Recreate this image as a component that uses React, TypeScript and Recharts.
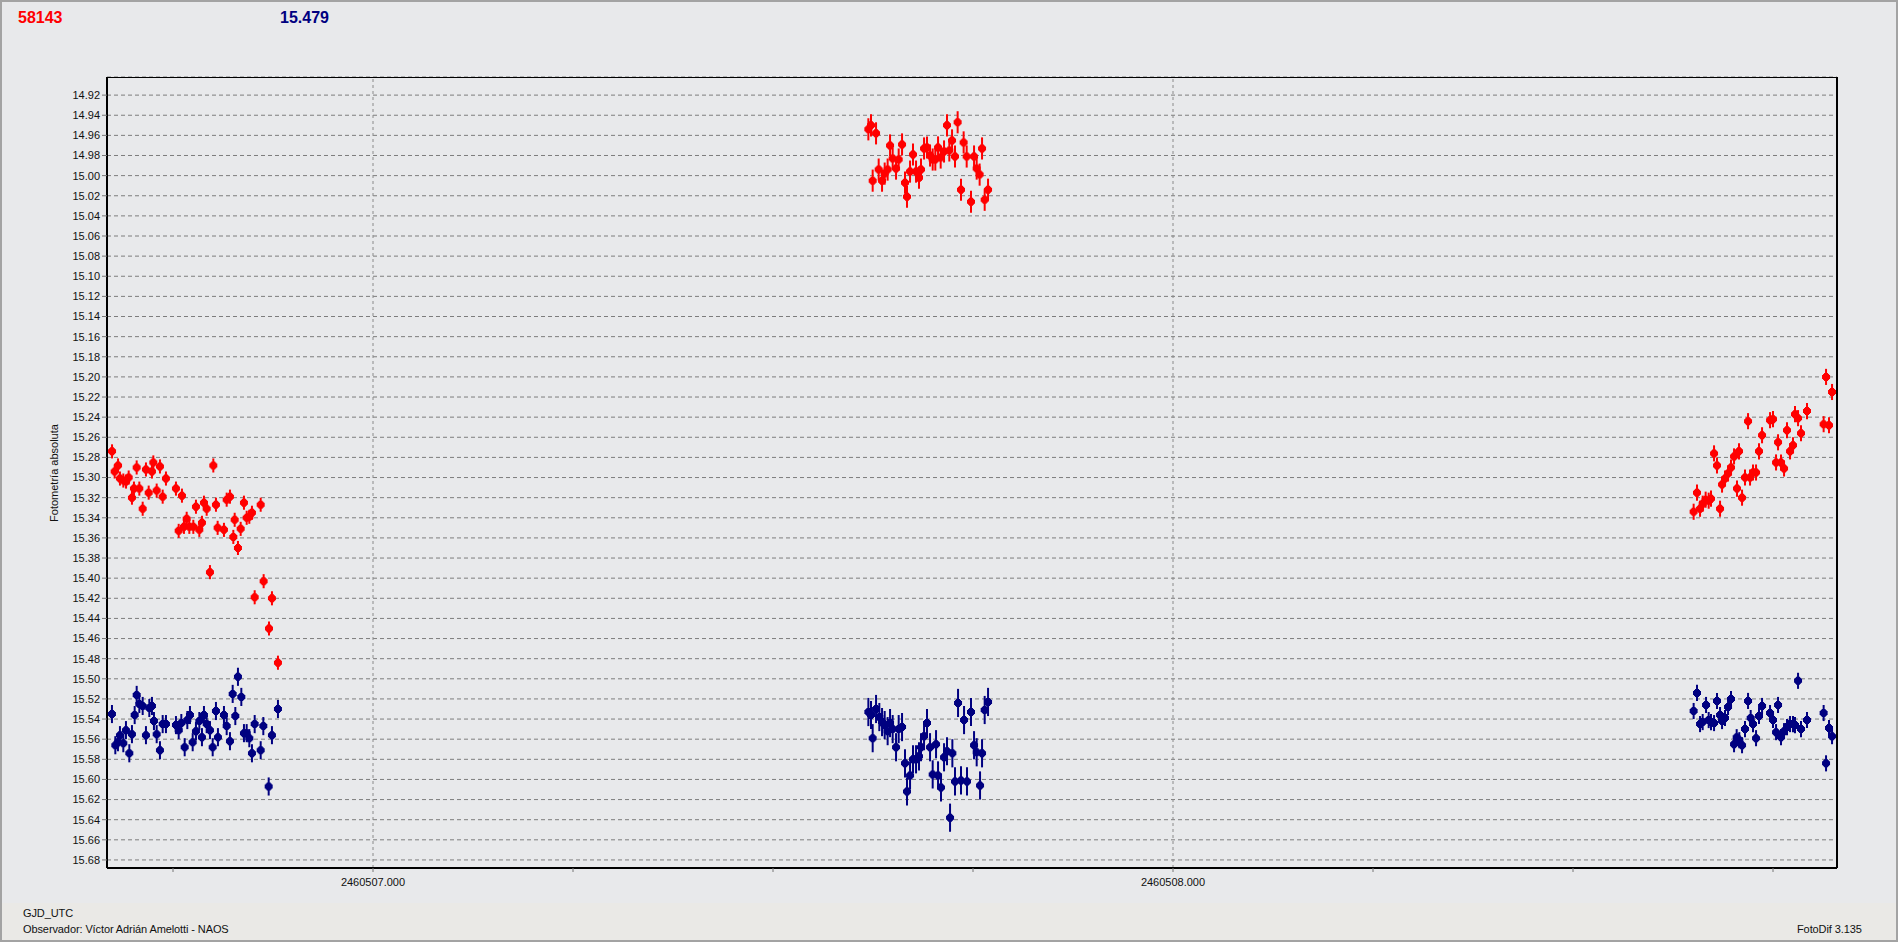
import React from "react";
import {
  ScatterChart,
  Scatter,
  XAxis,
  YAxis,
  CartesianGrid,
  ReferenceLine,
  ErrorBar,
} from "recharts";

// time axis is stored as days from JD0
const JD0 = 2460507;

const headerCount = "58143";
const headerMag = "15.479";
const xLabel = "GJD_UTC";
const yLabel = "Fotometría absoluta";
const observer = "Observador: Víctor Adrián Amelotti - NAOS";
const version = "FotoDif 3.135";

const yTicks = [
  14.92, 14.94, 14.96, 14.98, 15.0, 15.02, 15.04, 15.06, 15.08, 15.1, 15.12, 15.14, 15.16,
  15.18, 15.2, 15.22, 15.24, 15.26, 15.28, 15.3, 15.32, 15.34, 15.36, 15.38, 15.4, 15.42,
  15.44, 15.46, 15.48, 15.5, 15.52, 15.54, 15.56, 15.58, 15.6, 15.62, 15.64, 15.66, 15.68,
];
const xTicks = [-0.25, 0, 0.25, 0.5, 0.75, 1, 1.25, 1.5, 1.75];
const dayLines = [0, 1];

// [days, mag]
const redNight1: [number, number][] = [
  [-0.3262, 15.274], [-0.3229, 15.294], [-0.3187, 15.288], [-0.3163, 15.301], [-0.3121, 15.303],
  [-0.3087, 15.304], [-0.3054, 15.3], [-0.3013, 15.32], [-0.2988, 15.311], [-0.2954, 15.29],
  [-0.2921, 15.311], [-0.2879, 15.331], [-0.2838, 15.292], [-0.2804, 15.315], [-0.2763, 15.294],
  [-0.2746, 15.285], [-0.2704, 15.313], [-0.2663, 15.289], [-0.2629, 15.319], [-0.2588, 15.301],
  [-0.2463, 15.311], [-0.2429, 15.353], [-0.2388, 15.318], [-0.2363, 15.349], [-0.2329, 15.341],
  [-0.2296, 15.349], [-0.2246, 15.349], [-0.2213, 15.329], [-0.2171, 15.352], [-0.2138, 15.345],
  [-0.2113, 15.325], [-0.2079, 15.331], [-0.2038, 15.394], [-0.1996, 15.288], [-0.1963, 15.327],
  [-0.1942, 15.35], [-0.1863, 15.352], [-0.1829, 15.322], [-0.1788, 15.319], [-0.1746, 15.359],
  [-0.1729, 15.342], [-0.1688, 15.37], [-0.1654, 15.351], [-0.1613, 15.325], [-0.1579, 15.34],
  [-0.1546, 15.339], [-0.1513, 15.335], [-0.1479, 15.419], [-0.1404, 15.327], [-0.1367, 15.403],
  [-0.13, 15.45], [-0.1263, 15.42], [-0.1188, 15.484],
];
const redNight2: [number, number][] = [
  [0.6192, 14.954], [0.6225, 14.95], [0.6288, 14.958], [0.6246, 15.005], [0.6321, 14.994],
  [0.6363, 15.005], [0.6396, 14.998], [0.6433, 14.994], [0.6463, 14.97], [0.6496, 14.983],
  [0.6538, 14.993], [0.6571, 14.984], [0.6613, 14.969], [0.665, 15.007], [0.6675, 15.021],
  [0.6713, 14.996], [0.675, 14.979], [0.6788, 14.996], [0.6825, 15.002], [0.685, 14.994],
  [0.6888, 14.973], [0.6925, 14.972], [0.6963, 14.98], [0.6996, 14.984], [0.7029, 14.984],
  [0.7063, 14.972], [0.7096, 14.982], [0.7138, 14.976], [0.7175, 14.95], [0.7204, 14.975],
  [0.7238, 14.965], [0.7275, 14.981], [0.7308, 14.947], [0.735, 15.014], [0.7383, 14.967],
  [0.7421, 14.981], [0.7475, 15.026], [0.7513, 14.981], [0.7546, 14.993], [0.7583, 14.999],
  [0.7613, 14.973], [0.7646, 15.024], [0.7688, 15.014],
];
const redNight3: [number, number][] = [
  [1.6508, 15.334], [1.655, 15.315], [1.6588, 15.331], [1.6621, 15.326], [1.6658, 15.322],
  [1.6696, 15.323], [1.6725, 15.321], [1.6763, 15.276], [1.68, 15.288], [1.6838, 15.331],
  [1.6863, 15.307], [1.69, 15.301], [1.6938, 15.296], [1.6975, 15.29], [1.7013, 15.279],
  [1.705, 15.311], [1.7075, 15.274], [1.7113, 15.32], [1.715, 15.3], [1.7188, 15.244],
  [1.7213, 15.3], [1.725, 15.295], [1.7288, 15.295], [1.7325, 15.274], [1.7363, 15.258],
  [1.7463, 15.243], [1.75, 15.242], [1.7538, 15.285], [1.7563, 15.265], [1.76, 15.285],
  [1.7638, 15.291], [1.7675, 15.253], [1.7713, 15.274], [1.775, 15.268], [1.7775, 15.237],
  [1.7813, 15.241], [1.785, 15.256], [1.7925, 15.234], [1.8133, 15.247], [1.8163, 15.2],
  [1.82, 15.248], [1.8238, 15.215],
];

const blueNight1: [number, number][] = [
  [-0.3263, 15.535], [-0.3221, 15.566], [-0.3188, 15.563], [-0.3163, 15.556], [-0.3121, 15.564],
  [-0.3088, 15.551], [-0.3046, 15.574], [-0.3013, 15.555], [-0.2979, 15.536], [-0.2954, 15.516],
  [-0.2921, 15.525], [-0.2879, 15.527], [-0.2838, 15.556], [-0.2796, 15.529], [-0.2763, 15.527],
  [-0.2738, 15.542], [-0.2704, 15.555], [-0.2663, 15.571], [-0.2629, 15.545], [-0.2588, 15.545],
  [-0.2463, 15.546], [-0.2429, 15.551], [-0.2396, 15.544], [-0.2354, 15.568], [-0.2321, 15.541],
  [-0.2288, 15.536], [-0.2254, 15.563], [-0.2213, 15.552], [-0.2171, 15.542], [-0.2138, 15.558],
  [-0.2113, 15.536], [-0.2079, 15.545], [-0.2038, 15.551], [-0.2004, 15.568], [-0.1963, 15.532],
  [-0.1938, 15.558], [-0.1863, 15.536], [-0.1829, 15.547], [-0.1788, 15.562], [-0.1754, 15.515],
  [-0.1721, 15.537], [-0.1688, 15.498], [-0.1646, 15.518], [-0.1613, 15.554], [-0.1579, 15.554],
  [-0.1546, 15.559], [-0.1513, 15.574], [-0.1479, 15.545], [-0.1404, 15.571], [-0.1371, 15.547],
  [-0.1304, 15.607], [-0.1263, 15.556], [-0.1188, 15.53],
];
const blueNight2: [number, number][] = [
  [0.6192, 15.533], [0.6225, 15.536], [0.6288, 15.53], [0.6246, 15.559], [0.6329, 15.538],
  [0.6363, 15.543], [0.6396, 15.546], [0.6433, 15.552], [0.6463, 15.544], [0.6496, 15.55],
  [0.6538, 15.568], [0.6571, 15.55], [0.6613, 15.548], [0.665, 15.584], [0.6675, 15.612],
  [0.6713, 15.596], [0.675, 15.58], [0.6788, 15.58], [0.6825, 15.577], [0.685, 15.568],
  [0.6888, 15.557], [0.6925, 15.544], [0.6963, 15.568], [0.6996, 15.595], [0.7038, 15.565],
  [0.7063, 15.596], [0.71, 15.608], [0.7138, 15.578], [0.7175, 15.572], [0.7213, 15.638],
  [0.7242, 15.574], [0.7275, 15.602], [0.7313, 15.524], [0.735, 15.601], [0.7388, 15.541],
  [0.7425, 15.602], [0.7475, 15.533], [0.7513, 15.566], [0.7546, 15.573], [0.7588, 15.606],
  [0.7613, 15.574], [0.7646, 15.531], [0.7688, 15.523],
];
const blueNight3: [number, number][] = [
  [1.6508, 15.532], [1.655, 15.514], [1.6588, 15.545], [1.6621, 15.543], [1.6663, 15.526],
  [1.6696, 15.541], [1.6725, 15.543], [1.6763, 15.544], [1.68, 15.522], [1.6838, 15.536],
  [1.6863, 15.542], [1.69, 15.539], [1.6938, 15.528], [1.6975, 15.52], [1.7013, 15.565],
  [1.7046, 15.558], [1.7079, 15.561], [1.7113, 15.566], [1.715, 15.55], [1.7188, 15.522],
  [1.7221, 15.539], [1.725, 15.545], [1.7288, 15.559], [1.7325, 15.537], [1.7363, 15.527],
  [1.7463, 15.534], [1.75, 15.541], [1.7538, 15.553], [1.7563, 15.526], [1.76, 15.558],
  [1.7638, 15.552], [1.7675, 15.548], [1.7713, 15.545], [1.775, 15.545], [1.7775, 15.546],
  [1.7813, 15.502], [1.785, 15.55], [1.7925, 15.541], [1.8133, 15.534], [1.8163, 15.584],
  [1.82, 15.549], [1.8238, 15.557],
];

// typical error bar half-length per night
const redErr = [0.007, 0.011, 0.008];
const blueErr = [0.009, 0.014, 0.008];

const RED = "#ff0000";
const NAVY = "#000080";
const FONT = "'Liberation Sans', Arial, sans-serif";

function toPoints(nights: [number, number][][], errs: number[]) {
  return nights.flatMap((n, i) => n.map(([t, m]) => ({ t, m, e: errs[i] })));
}

const redData = toPoints([redNight1, redNight2, redNight3], redErr);
const blueData = toPoints([blueNight1, blueNight2, blueNight3], blueErr);

// blocky round marker, like the original's pixel dot
function Blob(props: any) {
  const { cx, cy, fill } = props;
  if (cx == null || cy == null) return null;
  const d =
    `M${cx - 2},${cy - 4}H${cx + 2}V${cy - 3}H${cx + 3}V${cy - 2}H${cx + 4}` +
    `V${cy + 2}H${cx + 3}V${cy + 3}H${cx + 2}V${cy + 4}H${cx - 2}V${cy + 3}` +
    `H${cx - 3}V${cy + 2}H${cx - 4}V${cy - 2}H${cx - 3}V${cy - 3}H${cx - 2}Z`;
  return <path d={d} fill={fill} />;
}

if (typeof document !== "undefined") document.body.style.margin = "0";

export default function App() {
  const tickStyle = { fontSize: 11, fill: "#111", fontFamily: FONT };
  const small = { position: "absolute" as const, fontSize: 11, color: "#111", letterSpacing: -0.1 };
  return (
    <div
      style={{
        position: "relative",
        width: 1898,
        height: 942,
        background: "#e8e9eb",
        fontFamily: FONT,
        overflow: "hidden",
      }}
    >
      <div style={{ position: "absolute", left: 0, top: 903, width: 1898, height: 39, background: "#eae9e6" }} />
      <div
        style={{
          position: "absolute",
          left: 0,
          top: 0,
          width: 1898,
          height: 942,
          boxSizing: "border-box",
          border: "2px solid #a3a3a3",
        }}
      />
      <div style={{ position: "absolute", left: 18, top: 9, fontSize: 16, fontWeight: "bold", color: RED }}>
        {headerCount}
      </div>
      <div style={{ position: "absolute", left: 280, top: 9, fontSize: 16, fontWeight: "bold", color: NAVY }}>
        {headerMag}
      </div>
      <div
        style={{
          position: "absolute",
          left: 54,
          top: 473,
          fontSize: 11,
          color: "#111",
          whiteSpace: "nowrap",
          transform: "translate(-50%, -50%) rotate(-90deg)",
        }}
      >
        {yLabel}
      </div>
      <div style={{ ...small, left: 23, top: 907 }}>{xLabel}</div>
      <div style={{ ...small, left: 23, top: 923 }}>{observer}</div>
      <div style={{ ...small, left: 1797, top: 923 }}>{version}</div>

      <div style={{ position: "absolute", left: 0, top: 0 }}>
        <ScatterChart width={1898} height={942} margin={{ top: 77, right: 61, left: 47, bottom: 44 }}>
          <CartesianGrid vertical={false} stroke="#7d7d7d" strokeDasharray="4 3" />
          <XAxis
            type="number"
            dataKey="t"
            domain={[-0.3325, 1.83]}
            allowDataOverflow
            ticks={xTicks}
            interval={0}
            height={30}
            tickSize={4}
            tickMargin={6}
            tick={tickStyle}
            tickLine={{ stroke: "#777" }}
            axisLine={{ stroke: "#000", strokeWidth: 2 }}
            tickFormatter={(v: number) => (Number.isInteger(v) ? (JD0 + v).toFixed(3) : "")}
          />
          <YAxis
            type="number"
            dataKey="m"
            reversed
            domain={[14.902, 15.688]}
            allowDataOverflow
            ticks={yTicks}
            interval={0}
            width={60}
            tickSize={5}
            tickMargin={2}
            tick={tickStyle}
            tickLine={{ stroke: "#777" }}
            axisLine={{ stroke: "#000", strokeWidth: 2 }}
            tickFormatter={(v: number) => v.toFixed(2)}
          />
          {dayLines.map((d) => (
            <ReferenceLine key={d} x={d} stroke="#8a8a8a" strokeDasharray="3 3" />
          ))}
          <Scatter data={redData} fill={RED} shape={<Blob />} isAnimationActive={false}>
            <ErrorBar dataKey="e" direction="y" width={0} stroke={RED} strokeWidth={2} isAnimationActive={false} />
          </Scatter>
          <Scatter data={blueData} fill={NAVY} shape={<Blob />} isAnimationActive={false}>
            <ErrorBar dataKey="e" direction="y" width={0} stroke={NAVY} strokeWidth={2} isAnimationActive={false} />
          </Scatter>
        </ScatterChart>
      </div>
      {/* top and right edges of the plot frame */}
      <div
        style={{
          position: "absolute",
          left: 107,
          top: 77,
          width: 1731,
          height: 791,
          boxSizing: "border-box",
          borderTop: "1px solid #000",
          borderRight: "2px solid #000",
          pointerEvents: "none",
        }}
      />
    </div>
  );
}
